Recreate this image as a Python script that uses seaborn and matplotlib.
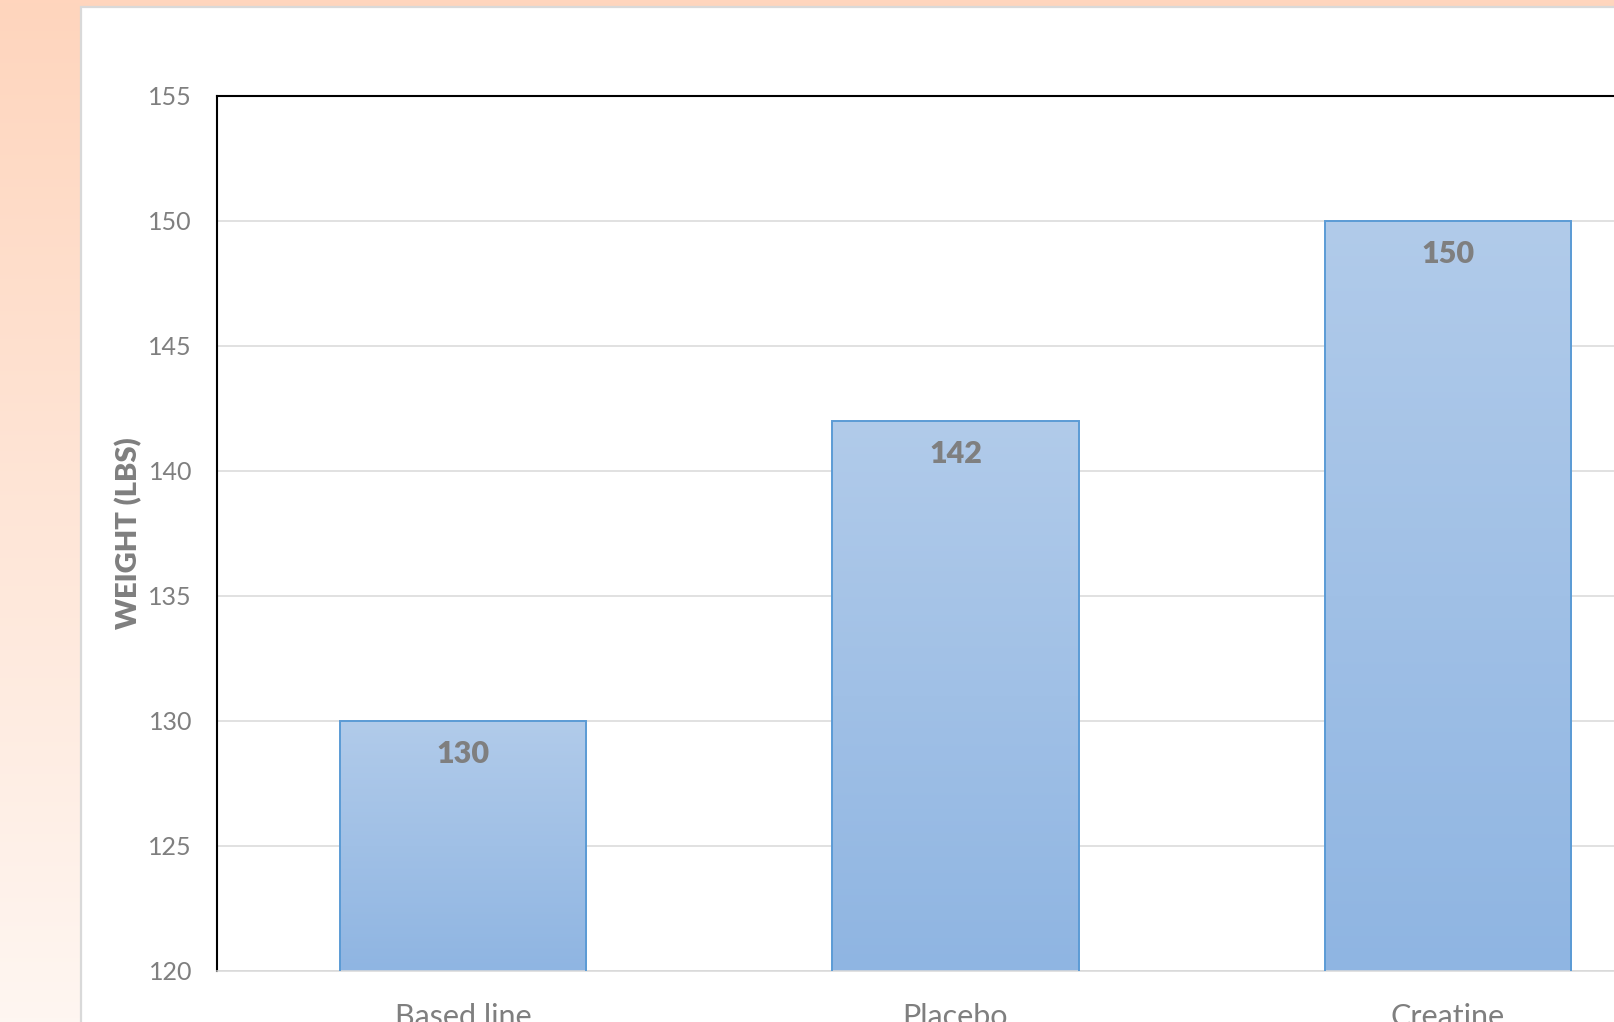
import numpy as np
import matplotlib
matplotlib.use("Agg")
import matplotlib.pyplot as plt
from matplotlib.colors import LinearSegmentedColormap
from matplotlib.patches import Rectangle
import seaborn as sns

# Data
categories = ["Based line", "Placebo", "Creatine"]
weights = [130, 142, 150]
y_ticks = [120, 125, 130, 135, 140, 145, 150, 155]

sns.set_theme(style="white")
plt.rcParams["font.family"] = ["Lato", "DejaVu Sans"]

W, H, DPI = 1615, 1022, 100
fig = plt.figure(figsize=(W / DPI, H / DPI), dpi=DPI)
fig.patch.set_facecolor("white")

# Peach backdrop fading downward
bg = fig.add_axes([0, 0, 1, 1], zorder=-10)
bg.set_axis_off()
top_c = np.array([255, 213, 189]) / 255
bot_c = np.array([254, 246, 241]) / 255
t = np.linspace(0, 1, 256)[:, None]
grad = top_c[None, :] * (1 - t) + bot_c[None, :] * t
bg.imshow(grad[:, None, :], aspect="auto", extent=[0, 1, 0, 1])
bg.set_xlim(0, 1)
bg.set_ylim(0, 1)

# White slide panel
panel = Rectangle((81 / W, -0.2), 1.5, 0.2 + (1 - 7 / H),
                  transform=fig.transFigure, facecolor="white",
                  edgecolor="#d9d9d9", linewidth=1.6, zorder=-5)
fig.patches.append(panel)

# Plot area (extends past the right edge)
left = 217 / W
right = 1694 / W
bottom = 1 - 971 / H
top = 1 - 96 / H
ax = fig.add_axes([left, bottom, right - left, top - bottom])
ax.set_facecolor("white")

sns.barplot(x=categories, y=weights, ax=ax, width=0.5, color="#a5c2e6",
            edgecolor="#5b9bd5", linewidth=1.4, zorder=3)

ymin, ymax = 120, 155
ax.set_ylim(ymin, ymax)
ax.set_xlim(-0.5, 2.5)

# Vertical gradient fill for each bar
bar_cmap = LinearSegmentedColormap.from_list("bar", ["#8fb5e2", "#b1cbea"])
g = np.linspace(0, 1, 256)[:, None]
for p in ax.patches:
    x0, w = p.get_x(), p.get_width()
    y1 = p.get_y() + p.get_height()
    p.set_facecolor("none")
    im = ax.imshow(g, extent=[x0, x0 + w, ymin, y1], origin="lower",
                   aspect="auto", cmap=bar_cmap, zorder=2.5)
    im.set_clip_path(p)
ax.set_xlim(-0.5, 2.5)
ax.set_ylim(ymin, ymax)

# Value labels inside bar tops
for i, v in enumerate(weights):
    ax.annotate(f"{v}", xy=(i, v), xytext=(0, -24), textcoords="offset points",
                ha="center", va="center", fontsize=22, fontweight="heavy",
                color="#7f7f7f", zorder=5)

ax.set_yticks(y_ticks)
ax.set_yticklabels([str(v) for v in y_ticks])
ax.yaxis.grid(True, color="#d9d9d9", linewidth=1.1)
ax.xaxis.grid(False)
ax.set_axisbelow(True)
ax.tick_params(axis="y", length=0, pad=18, labelsize=18, labelcolor="#7f7f7f")
ax.tick_params(axis="x", length=0, pad=23, labelsize=22, labelcolor="#7f7f7f")
ax.set_xlabel("")
ax.set_ylabel("WEIGHT (LBS)", fontsize=21, fontweight="heavy", color="#7f7f7f",
              labelpad=4)

for side in ["top", "left"]:
    ax.spines[side].set_color("black")
    ax.spines[side].set_linewidth(1.5)
ax.spines["bottom"].set_color("#d9d9d9")
ax.spines["bottom"].set_linewidth(1.1)
ax.spines["right"].set_color("black")
ax.spines["right"].set_linewidth(1.5)

fig.savefig("out.png", dpi=DPI)
